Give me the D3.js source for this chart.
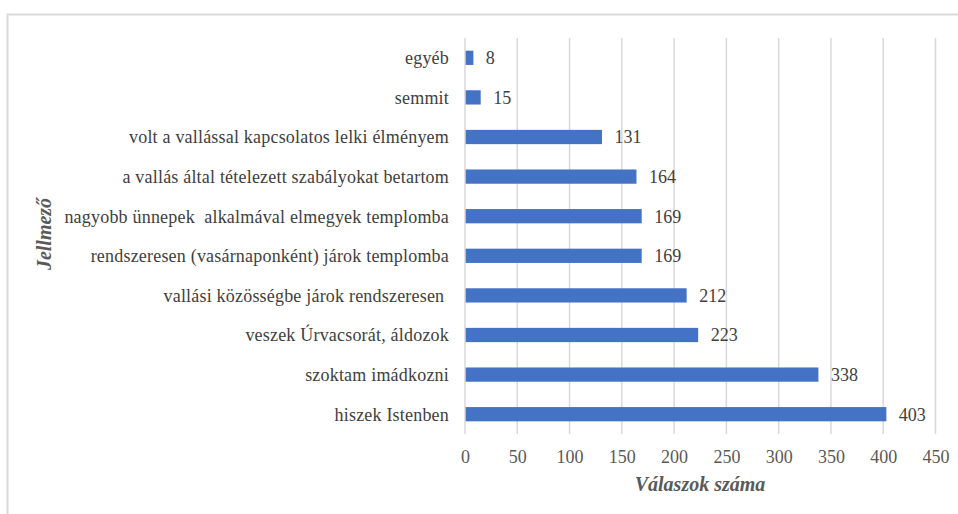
<!DOCTYPE html>
<html><head><meta charset="utf-8">
<script src="https://cdn.jsdelivr.net/npm/d3@7"></script>
<style>body{margin:0;background:#fff;}svg{display:block;}</style>
</head><body>
<svg id="chart" width="958" height="514"></svg>
<script>
const categories = ["egyéb","semmit","volt a vallással kapcsolatos lelki élményem","a vallás által tételezett szabályokat betartom","nagyobb ünnepek  alkalmával elmegyek templomba","rendszeresen (vasárnaponként) járok templomba","vallási közösségbe járok rendszeresen ","veszek Úrvacsorát, áldozok","szoktam imádkozni","hiszek Istenben"];
const values = [8,15,131,164,169,169,212,223,338,403];
const xTicks = [0,50,100,150,200,250,300,350,400,450];
const xTitle = "Válaszok száma";
const yTitle = "Jellmező";

const svg = d3.select("#chart");
const FONT = '"Liberation Serif"';
const txt = "#595959";

svg.append("rect").attr("x",7.5).attr("y",14.5).attr("width",1000).attr("height",600)
  .attr("fill","none").attr("stroke","#d9d9d9").attr("stroke-width",2);

const x = d3.scaleLinear().domain([0,450]).range([465,935.5]);
const y = d3.scaleBand().domain(categories).range([38,434]).paddingInner(0.64).paddingOuter(0.32);

svg.append("g").selectAll("line").data(xTicks.slice(1)).join("line")
  .attr("x1",d=>x(d)).attr("x2",d=>x(d)).attr("y1",38).attr("y2",434)
  .attr("stroke","#d9d9d9").attr("stroke-width",1.5);

svg.append("g").selectAll("rect").data(values).join("rect")
  .attr("x",x(0)).attr("y",(d,i)=>y(categories[i]))
  .attr("width",d=>x(d)-x(0)).attr("height",y.bandwidth())
  .attr("fill","#4472C4");

svg.append("line").attr("x1",x(0)).attr("x2",x(0)).attr("y1",38).attr("y2",434)
  .attr("stroke","#d9d9d9").attr("stroke-width",1.5);

svg.append("g").selectAll("text").data(values).join("text")
  .attr("x",d=>x(d)+12.5).attr("y",(d,i)=>y(categories[i])+y.bandwidth()/2)
  .attr("dy","0.35em").attr("font-family",FONT).attr("font-size",18).attr("fill","#404040")
  .text(d=>d);

const yAxis = d3.axisLeft(y).tickSize(0).tickPadding(16);
const gy = svg.append("g").attr("transform",`translate(${x(0)},0)`).call(yAxis);
gy.attr("font-family",FONT).attr("font-size",18);
gy.select(".domain").remove();
gy.selectAll("text").attr("font-family",FONT).attr("font-size",18).attr("fill","#404040").attr("dy","0.35em")
  .attr("letter-spacing",0.2).style("white-space","pre");

const xAxis = d3.axisBottom(x).tickValues(xTicks).tickSize(0).tickPadding(16);
const gx = svg.append("g").attr("transform","translate(0,434)").call(xAxis);
gx.attr("font-family",FONT).attr("font-size",18);
gx.select(".domain").remove();
gx.selectAll("text").attr("font-family",FONT).attr("font-size",18).attr("fill",txt);

svg.append("text").attr("x",700).attr("y",491).attr("text-anchor","middle")
  .attr("font-family",FONT).attr("font-size",20).attr("font-weight","bold").attr("font-style","italic")
  .attr("fill",txt).text(xTitle);
svg.append("text").attr("transform","translate(51,234) rotate(-90)").attr("text-anchor","middle")
  .attr("font-family",FONT).attr("font-size",20).attr("font-weight","bold").attr("font-style","italic")
  .attr("fill",txt).text(yTitle);
</script>
</body></html>
